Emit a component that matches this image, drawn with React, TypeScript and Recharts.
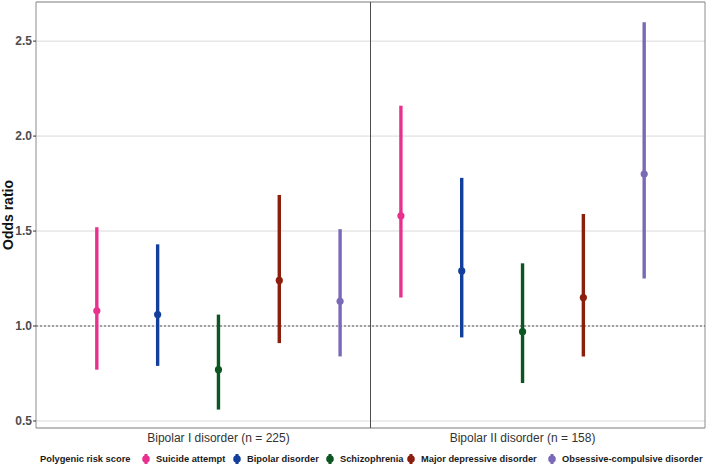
import {
  ComposedChart,
  Scatter,
  ErrorBar,
  XAxis,
  YAxis,
  CartesianGrid,
  ReferenceLine,
  ReferenceArea,
} from "recharts";

const groups = ["Bipolar I disorder (n = 225)", "Bipolar II disorder (n = 158)"];
const scores = [
  "Suicide attempt",
  "Bipolar disorder",
  "Schizophrenia",
  "Major depressive disorder",
  "Obsessive-compulsive disorder",
];
const colors = ["#E8318F", "#123F9C", "#0B5621", "#8C1E0E", "#7A69B7"];

// odds ratio, lower and upper CI per score, [Bipolar I, Bipolar II]
const oddsRatio = [
  [1.08, 1.58],
  [1.06, 1.29],
  [0.77, 0.97],
  [1.24, 1.15],
  [1.13, 1.8],
];
const lowerCI = [
  [0.77, 1.15],
  [0.79, 0.94],
  [0.56, 0.7],
  [0.91, 0.84],
  [0.84, 1.25],
];
const upperCI = [
  [1.52, 2.16],
  [1.43, 1.78],
  [1.06, 1.33],
  [1.69, 1.59],
  [1.51, 2.6],
];
const yTicks = [0.5, 1.0, 1.5, 2.0, 2.5];

const dodge = 0.2;
const font = "'Liberation Sans', Arial, sans-serif";
// legend layout: marker centre x per item
const legendMarkX = [146, 237, 330, 411, 552];

const series = scores.map((name, i) => ({
  name,
  color: colors[i],
  data: groups.map((_, g) => ({
    x: g + 1 + (i - 2) * dodge,
    y: oddsRatio[i][g],
    err: [oddsRatio[i][g] - lowerCI[i][g], upperCI[i][g] - oddsRatio[i][g]],
  })),
}));

function LegendMark({ color }: { color: string }) {
  return (
    <svg width={8} height={12}>
      <line x1={4} y1={1} x2={4} y2={11} stroke={color} strokeWidth={3} />
      <circle cx={4} cy={6} r={3.8} fill={color} />
    </svg>
  );
}

export default function App() {
  const legendText = { position: "absolute" as const, top: 0, lineHeight: "12px" };
  return (
    <div style={{ position: "absolute", left: 0, top: 0, width: 708, height: 466, fontFamily: font, background: "#fff" }}>
      <ComposedChart width={708} height={466} margin={{ top: 2, right: 3, bottom: 0, left: 0 }}>
        <CartesianGrid stroke="#DADADA" vertical={false} />
        <XAxis
          type="number"
          dataKey="x"
          domain={[0.4, 2.6]}
          ticks={[1, 2]}
          tickFormatter={(v) => groups[v - 1] ?? ""}
          axisLine={false}
          tickLine={false}
          tickSize={0}
          tickMargin={5}
          height={38}
          tick={{ fontSize: 12, fill: "#333", fontFamily: font }}
        />
        <YAxis
          type="number"
          dataKey="y"
          domain={[0.463, 2.706]}
          allowDataOverflow
          ticks={yTicks}
          tickFormatter={(v) => v.toFixed(1)}
          axisLine={false}
          tickSize={3}
          tickMargin={1}
          width={36}
          tickLine={{ stroke: "#333" }}
          tick={{ fontSize: 12, fill: "#4D4D4D", fontWeight: "bold", fontFamily: font }}
          label={{
            value: "Odds ratio",
            content: (p: any) => {
              const cy = p.viewBox.y + p.viewBox.height / 2;
              return (
                <text
                  x={12.5}
                  y={cy}
                  transform={`rotate(-90, 12.5, ${cy})`}
                  textAnchor="middle"
                  fontSize={14}
                  fontWeight="bold"
                  fill="#111"
                  fontFamily={font}
                >
                  Odds ratio
                </text>
              );
            },
          }}
        />
        <ReferenceLine y={1} stroke="#555" strokeDasharray="2 2" />
        <ReferenceLine x={1.5} stroke="#4D4D4D" />
        <ReferenceArea x1={0.4} x2={2.6} y1={0.463} y2={2.706} fill="none" stroke="#8C8C8C" />
        {series.map((s) => (
          <Scatter
            key={s.name}
            name={s.name}
            data={s.data}
            fill={s.color}
            isAnimationActive={false}
            shape={(p: any) => <circle cx={p.cx} cy={p.cy} r={3.6} fill={s.color} />}
          >
            <ErrorBar dataKey="err" direction="y" width={0} stroke={s.color} strokeWidth={3.4} />
          </Scatter>
        ))}
      </ComposedChart>
      <div
        style={{
          position: "absolute",
          top: 453,
          left: 0,
          width: 708,
          height: 12,
          fontSize: 9.3,
          fontWeight: "bold",
          color: "#1A1A1A",
          whiteSpace: "nowrap",
        }}
      >
        <span style={{ ...legendText, left: 40 }}>Polygenic risk score</span>
        {series.map((s, i) => (
          <span key={s.name}>
            <span style={{ position: "absolute", top: 0, left: legendMarkX[i] - 4 }}>
              <LegendMark color={s.color} />
            </span>
            <span style={{ ...legendText, left: legendMarkX[i] + 10 }}>{s.name}</span>
          </span>
        ))}
      </div>
    </div>
  );
}
